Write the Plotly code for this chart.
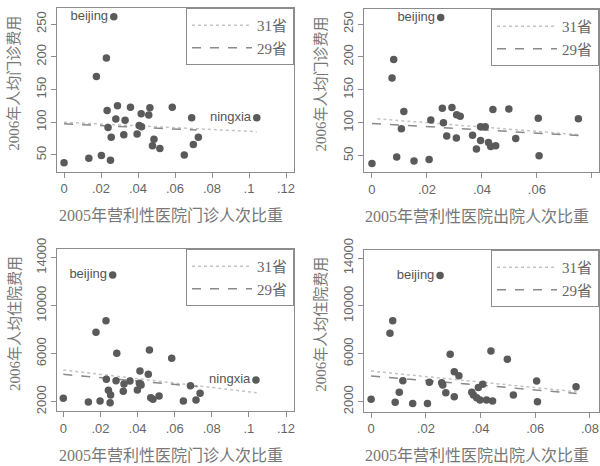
import plotly.graph_objects as go

# ---------------- data ----------------
# Panel A: outpatient share (2005) vs outpatient cost per visit (2006)
outpt_share_a = [0.0269, 0.0229, 0.0175, 0.0233, 0.0289, 0.0359, 0.0464, 0.0585, 0.0417, 0.0458,
                 0.0280, 0.0330, 0.0690, 0.1042, 0.0238, 0.0406, 0.0419, 0.0255, 0.0323, 0.0395,
                 0.0486, 0.0478, 0.0518, 0.0726, 0.0699, 0.0650, 0.0202, 0.0134, 0.0251, 0.0]
outpt_cost_a = [261, 198, 170, 118, 125, 123, 122, 123, 113, 111,
                105, 103, 107, 107, 92, 95, 93, 77, 81, 82,
                74, 64, 60, 77, 66, 50, 49, 45, 42, 38]
labels_a = ["beijing"] + [""] * 12 + ["ningxia"] + [""] * 16

# Panel B: inpatient (discharge) share vs outpatient cost per visit
inpt_share_b = [0.0250, 0.0079, 0.0073, 0.0116, 0.0256, 0.0291, 0.0440, 0.0498, 0.0308, 0.0321,
                0.0214, 0.0260, 0.0605, 0.0751, 0.0107, 0.0395, 0.0412, 0.0272, 0.0307, 0.0366,
                0.0395, 0.0424, 0.0380, 0.0432, 0.0450, 0.0523, 0.0090, 0.0153, 0.0208, 0.0, 0.0608]
outpt_cost_b = [260, 196, 168, 117, 122, 123, 120, 121, 112, 110,
                104, 100, 107, 106, 91, 94, 94, 80, 77, 81,
                73, 70, 60, 64, 65, 76, 48, 42, 44, 38, 50]
labels_b = ["beijing"] + [""] * 30

# Panel C: outpatient share vs inpatient cost per admission
outpt_share_c = [0.0266, 0.0230, 0.0176, 0.0288, 0.0464, 0.0584, 0.0413, 0.0458, 0.0232, 0.0284,
                 0.0359, 0.0327, 0.0410, 0.0685, 0.1038, 0.0399, 0.0323, 0.0243, 0.0255, 0.0471,
                 0.0483, 0.0516, 0.0737, 0.0715, 0.0647, 0.0198, 0.0135, 0.0252, 0.0, 0.0419]
inpt_cost_c = [12556, 8750, 7778, 6028, 6306, 5611, 4556, 4278, 3861, 3750,
               3722, 3472, 3528, 3333, 3806, 2972, 2861, 2944, 2556, 2333,
               2194, 2472, 2694, 2139, 2056, 2056, 1972, 1917, 2278, 3400]
labels_c = ["beijing"] + [""] * 13 + ["ningxia"] + [""] * 15

# Panel D: inpatient share vs inpatient cost per admission
inpt_share_d = [0.0252, 0.0079, 0.0069, 0.0289, 0.0438, 0.0498, 0.0304, 0.0321, 0.0116, 0.0213,
                0.0258, 0.0262, 0.0408, 0.0392, 0.0605, 0.0749, 0.0103, 0.0273, 0.0368, 0.0374,
                0.0386, 0.0398, 0.0422, 0.0444, 0.0304, 0.0520, 0.0088, 0.0152, 0.0206, 0.0, 0.0608]
inpt_cost_d = [12548, 8752, 7720, 5961, 6240, 5542, 4510, 4174, 3755, 3615,
               3587, 3392, 3448, 3196, 3727, 3252, 2782, 2754, 2782, 2558,
               2335, 2140, 2140, 2056, 2419, 2558, 1944, 1860, 1860, 2195, 2000]
labels_d = ["beijing"] + [""] * 30

# fitted lines (end points)
fit31_x_a, fit31_y_a = [0.0, 0.1042], [100, 85.5]
fit29_x_a, fit29_y_a = [0.0, 0.0717], [97.5, 88]
fit31_x_b, fit31_y_b = [0.002, 0.075], [106, 82]
fit29_x_b, fit29_y_b = [0.0, 0.0757], [99, 80.4]
fit31_x_c, fit31_y_c = [0.0, 0.1042], [4640, 2750]
fit29_x_c, fit29_y_c = [0.0, 0.0733], [4280, 3250]
fit31_x_d, fit31_y_d = [0.0, 0.0751], [4560, 2830]
fit29_x_d, fit29_y_d = [0.0, 0.0751], [4150, 2695]

legend_names = ["31省", "29省"]
xtick_vals_12 = [0, 0.02, 0.04, 0.06, 0.08, 0.1, 0.12]
xtick_text_12 = ["0", ".02", ".04", ".06", ".08", ".1", ".12"]
xtick_vals_08 = [0, 0.02, 0.04, 0.06, 0.08]
xtick_text_08 = ["0", ".02", ".04", ".06", ".08"]
ytick_vals_out = [50, 100, 150, 200, 250]
ytick_text_out = ["50", "100", "150", "200", "250"]
ytick_vals_in = [2000, 6000, 10000, 14000]
ytick_text_in = ["2000", "6000", "10000", "14000"]

xtitle_out = "2005年营利性医院门诊人次比重"
xtitle_in = "2005年营利性医院出院人次比重"
ytitle_out = "2006年人均门诊费用"
ytitle_in = "2006年人均住院费用"

# ---------------- layout helpers ----------------
W, H = 600, 466
def px(x):
    return x / W
def py(y):
    return 1 - y / H

AX = "#8c8c8c"
TXT = "#666666"
TITLE = "#777777"
PT = "#5a5a5a"
SERIF = "Liberation Serif, Noto Sans CJK SC, serif"
SANS = "Liberation Sans, Arial, sans-serif"

panels = [
    (outpt_share_a, outpt_cost_a, labels_a, (fit31_x_a, fit31_y_a), (fit29_x_a, fit29_y_a),
     (57, 294), (8, 171.5), (-0.0038, 0.1243), (24.7, 274.5), (xtick_vals_12, xtick_text_12),
     (ytick_vals_out, ytick_text_out), xtitle_out, ytitle_out),
    (inpt_share_b, outpt_cost_b, labels_b, (fit31_x_b, fit31_y_b), (fit29_x_b, fit29_y_b),
     (364, 599), (9, 172), (-0.0029, 0.0826), (25.2, 272.8), (xtick_vals_08, xtick_text_08),
     (ytick_vals_out, ytick_text_out), xtitle_in, ytitle_out),
    (outpt_share_c, inpt_cost_c, labels_c, (fit31_x_c, fit31_y_c), (fit29_x_c, fit29_y_c),
     (57, 294), (249, 411), (-0.0034, 0.1243), (1225, 14725), (xtick_vals_12, xtick_text_12),
     (ytick_vals_in, ytick_text_in), xtitle_out, ytitle_in),
    (inpt_share_d, inpt_cost_d, labels_d, (fit31_x_d, fit31_y_d), (fit29_x_d, fit29_y_d),
     (364, 599), (250, 411.7), (-0.0026, 0.0833), (1165, 14668), (xtick_vals_08, xtick_text_08),
     (ytick_vals_in, ytick_text_in), xtitle_in, ytitle_in),
]

fig = go.Figure()
layout = dict(width=W, height=H, autosize=False, margin=dict(l=0, r=0, t=0, b=0, pad=0),
              paper_bgcolor="white", plot_bgcolor="white", showlegend=True)
annotations = []

for i, (xd, yd, lab, f31, f29, xdom, ydom, xr, yr, xt, yt, xtitle, ytitle) in enumerate(panels):
    n = i + 1
    xa = "x" if n == 1 else f"x{n}"
    ya = "y" if n == 1 else f"y{n}"
    lg = "legend" if n == 1 else f"legend{n}"
    fig.add_trace(go.Scatter(x=f31[0], y=f31[1], mode="lines", name=legend_names[0],
                             line=dict(color="#c4c4c4", width=1.5, dash="dot"),
                             xaxis=xa, yaxis=ya, legend=lg))
    fig.add_trace(go.Scatter(x=f29[0], y=f29[1], mode="lines", name=legend_names[1],
                             line=dict(color="#8a8a8a", width=1.5, dash="dash"),
                             xaxis=xa, yaxis=ya, legend=lg))
    fig.add_trace(go.Scatter(x=xd, y=yd, mode="markers+text", text=lab, textposition="middle left",
                             textfont=dict(family=SANS, size=13, color="#555555"),
                             marker=dict(size=7.5, color=PT), showlegend=False,
                             xaxis=xa, yaxis=ya, cliponaxis=False))
    axcommon = dict(showline=True, linecolor=AX, linewidth=1, mirror=True, showgrid=False,
                    zeroline=False, ticks="outside", ticklen=5, tickcolor=AX, tickwidth=1,
                    automargin=False, tickfont=dict(family=SANS, size=13, color=TXT))
    layout["xaxis" if n == 1 else f"xaxis{n}"] = dict(
        domain=[px(xdom[0]), px(xdom[1])], range=list(xr), anchor=ya,
        tickmode="array", tickvals=xt[0], ticktext=xt[1], **axcommon)
    layout["yaxis" if n == 1 else f"yaxis{n}"] = dict(
        domain=[py(ydom[1]), py(ydom[0])], range=list(yr), anchor=xa,
        tickmode="array", tickvals=yt[0], ticktext=yt[1], tickangle=-90, **axcommon)
    layout[lg] = dict(x=px(xdom[1]), y=py(ydom[0]), xanchor="right", yanchor="top",
                      bordercolor=AX, borderwidth=1, bgcolor="white",
                      font=dict(family=SERIF, size=15, color=TXT),
                      itemwidth=60, tracegroupgap=0)
    annotations.append(dict(text=xtitle, xref="paper", yref="paper",
                            x=px((xdom[0] + xdom[1]) / 2 - 5), y=py(ydom[1] + 44),
                            xanchor="center", yanchor="middle", showarrow=False,
                            font=dict(family=SERIF, size=16, color=TITLE)))
    annotations.append(dict(text=ytitle, xref="paper", yref="paper",
                            x=px(xdom[0] - 43), y=py((ydom[0] + ydom[1]) / 2 - 6),
                            xanchor="center", yanchor="middle", showarrow=False, textangle=-90,
                            font=dict(family=SERIF, size=15, color=TITLE)))

layout["annotations"] = annotations
fig.update_layout(**layout)
fig.write_html("out.html")
